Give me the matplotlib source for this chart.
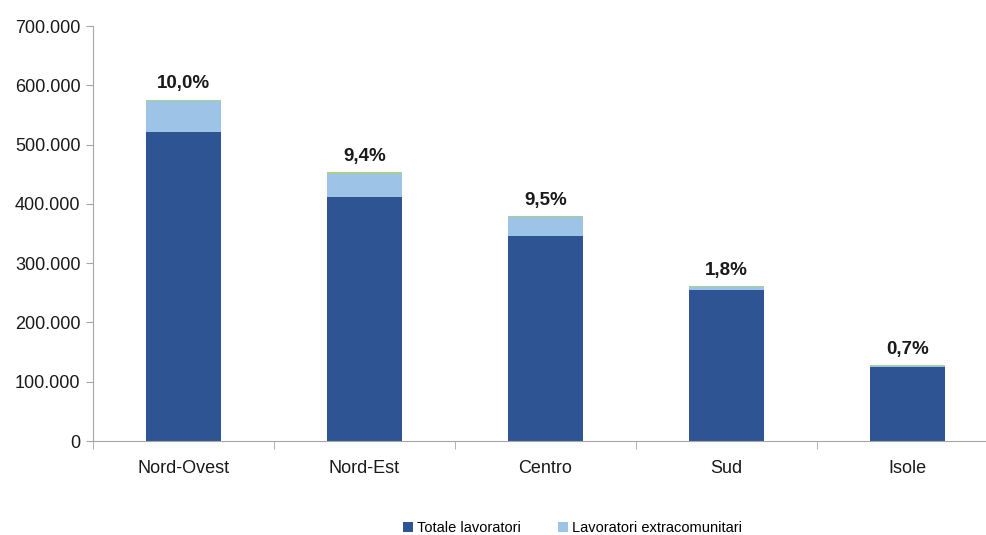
import matplotlib.pyplot as plt
import numpy as np
from matplotlib.ticker import FuncFormatter

plt.rcParams['font.family'] = ['Liberation Sans', 'DejaVu Sans']

# Dati
regioni = ['Nord-Ovest', 'Nord-Est', 'Centro', 'Sud', 'Isole']
totale = [521000, 411000, 346000, 255000, 125500]
extracom = [53000, 40000, 32000, 4000, 700]
altri = [2000, 2000, 2000, 2000, 1500]
percentuali = ['10,0%', '9,4%', '9,5%', '1,8%', '0,7%']

DARK = '#2E5494'
LIGHT = '#9DC3E6'
GREEN = '#A9D18E'
GRID = '#A6A6A6'


def fmt_migliaia(v, pos):
    return f"{int(v):,}".replace(',', '.')


fig = plt.figure(figsize=(9.87, 5.35), dpi=100)
ax = fig.add_axes([0.0942, 0.1757, 0.917, 0.7757])

x = np.arange(len(regioni))
w = 0.41
b1 = ax.bar(x, totale, w, color=DARK, label='Totale lavoratori')
b2 = ax.bar(x, extracom, w, bottom=totale, color=LIGHT, label='Lavoratori extracomunitari')
base = np.array(totale) + np.array(extracom)
ax.bar(x, altri, w, bottom=base, color=GREEN, label='_nolegend_')

top = base + np.array(altri)
for xi, ti, p in zip(x, top, percentuali):
    ax.text(xi, ti + 12000, p, ha='center', va='bottom', fontsize=13.5,
            fontweight='bold', color='#1A1A1A')

ax.set_xlim(-0.5, len(regioni) - 0.5)
ax.set_ylim(0, 700000)
ax.set_yticks(np.arange(0, 700001, 100000))
ax.yaxis.set_major_formatter(FuncFormatter(fmt_migliaia))

ax.set_xticks(x)
ax.set_xticklabels(regioni)
ax.set_xticks(np.arange(-0.5, len(regioni), 1), minor=True)
ax.tick_params(axis='x', which='major', length=0, pad=14, labelsize=13, colors='#1A1A1A')
ax.tick_params(axis='x', which='minor', length=6, color=GRID, direction='out')
ax.tick_params(axis='y', length=5, labelsize=13, pad=4, colors=GRID, labelcolor='#1A1A1A')

for s in ['top', 'right']:
    ax.spines[s].set_visible(False)
for s in ['left', 'bottom']:
    ax.spines[s].set_color(GRID)

fig.legend(handles=[b1, b2], loc='lower center', bbox_to_anchor=(0.58, -0.025),
           ncol=2, frameon=False, fontsize=10.5, handlelength=0.7, handleheight=0.7,
           columnspacing=2.5, handletextpad=0.3)

fig.savefig('out.png', dpi=100)
